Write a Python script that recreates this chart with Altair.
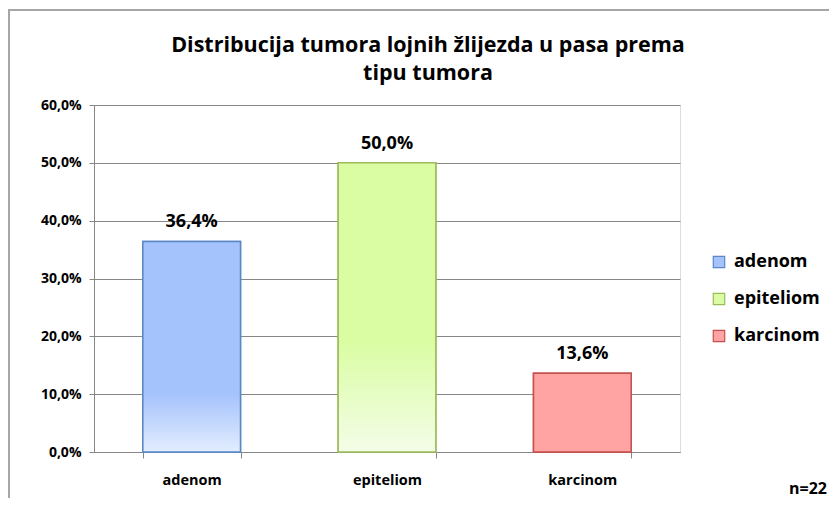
import altair as alt
import pandas as pd

categories = ["adenom", "epiteliom", "karcinom"]
values = [0.364, 0.500, 0.136]
fill_colors = ["#A4C2FC", "#DAFDA3", "#FFA3A3"]
fade_colors = ["#E3EDFE", "#F4FDE8", "#FFA3A3"]
fade_start = [0.72, 0.62, 1.0]
stroke_colors = ["#5A88C4", "#9CBB5B", "#C4504E"]
title_lines = ["Distribucija tumora lojnih žlijezda u pasa prema", "tipu tumora"]
note_text = "n=22"
y_ticks = [0, 0.1, 0.2, 0.3, 0.4, 0.5, 0.6]

FONT = "Open Sans"

df = pd.DataFrame({"tip": categories, "udio": values})

W, H = 586, 347

x_enc = alt.X("tip:N", sort=categories,
              scale=alt.Scale(paddingInner=0.5, paddingOuter=0.25),
              axis=alt.Axis(title=None, labelAngle=0, labelFont=FONT, labelFontSize=14.5,
                            labelFontWeight="bold", labelColor="#000000", labelPadding=15,
                            tickBand="extent", tickSize=6, tickColor="#868686",
                            domainColor="#868686", grid=False))
y_enc = alt.Y("udio:Q", scale=alt.Scale(domain=[0, 0.6], nice=False),
              axis=alt.Axis(title=None, values=y_ticks,
                            labelExpr="replace(format(datum.value, '.1%'), '.', ',')",
                            labelFont=FONT, labelFontSize=14, labelFontWeight="bold",
                            labelColor="#000000", labelPadding=8, tickSize=5,
                            tickColor="#868686", domainColor="#868686",
                            gridColor="#868686", gridWidth=1))

base = alt.Chart(df)

bars = base.mark_bar(strokeWidth=1.5).encode(
    x=x_enc,
    y=y_enc,
    color=alt.Color("tip:N", sort=categories,
                    scale=alt.Scale(domain=categories, range=fill_colors),
                    legend=alt.Legend(title=None, orient="none", legendX=616, legendY=148,
                                      symbolType="square", symbolSize=130,
                                      symbolStrokeWidth=1.2, labelFont=FONT,
                                      labelFontSize=18, labelFontWeight="bold",
                                      labelColor="#000000", rowPadding=19,
                                      labelOffset=6)),
    stroke=alt.Stroke("tip:N", sort=categories,
                      scale=alt.Scale(domain=categories, range=stroke_colors)),
)

layers = [bars]
for cat, c1, c2, off, sc in zip(categories, fill_colors, fade_colors, fade_start, stroke_colors):
    grad = alt.Gradient(gradient="linear", x1=0, y1=0, x2=0, y2=1,
                        stops=[alt.GradientStop(offset=0, color=c1),
                               alt.GradientStop(offset=off, color=c1),
                               alt.GradientStop(offset=1, color=c2)])
    layers.append(
        base.transform_filter(alt.datum.tip == cat)
        .mark_bar(fill=grad, stroke=sc, strokeWidth=1.5)
        .encode(x=x_enc, y=y_enc)
    )

labels = base.transform_calculate(
    lab="replace(format(datum.udio, '.1%'), '.', ',')"
).mark_text(font=FONT, fontSize=18, fontWeight="bold", color="#000000",
            baseline="alphabetic", dy=-14).encode(x=x_enc, y=y_enc, text="lab:N")
layers.append(labels)

title_df = pd.DataFrame({"t": title_lines, "row": [0, 1]})
title1 = alt.Chart(title_df).transform_filter(alt.datum.row == 0).mark_text(
    font=FONT, fontSize=21.5, fontWeight="bold", color="#000000",
    align="center", baseline="alphabetic"
).encode(x=alt.value(334), y=alt.value(-53), text="t:N")
title2 = alt.Chart(title_df).transform_filter(alt.datum.row == 1).mark_text(
    font=FONT, fontSize=21.5, fontWeight="bold", color="#000000",
    align="center", baseline="alphabetic"
).encode(x=alt.value(334), y=alt.value(-25), text="t:N")
layers += [title1, title2]

note = alt.Chart(pd.DataFrame({"t": [note_text]})).mark_text(
    font=FONT, fontSize=16, fontWeight="bold", color="#000000",
    align="right", baseline="alphabetic"
).encode(x=alt.value(733), y=alt.value(389), text="t:N")
layers.append(note)

border_df = pd.DataFrame({"k": [0]})
top_border = alt.Chart(border_df).mark_rule(color="#A6A6A6", strokeWidth=2).encode(
    x=alt.value(-85), x2=alt.value(740), y=alt.value(-95))
left_border = alt.Chart(border_df).mark_rule(color="#A6A6A6", strokeWidth=2).encode(
    x=alt.value(-85), y=alt.value(-96), y2=alt.value(400))
layers += [top_border, left_border]

chart = alt.layer(*layers).properties(
    width=W, height=H,
    autosize=alt.AutoSizeParams(type="none"),
    padding={"left": 86, "top": 97, "right": 149, "bottom": 46},
).configure_view(stroke=None).configure(background="#FFFFFF")

chart.save("out.html", embed_options={"renderer": "svg", "actions": False})
